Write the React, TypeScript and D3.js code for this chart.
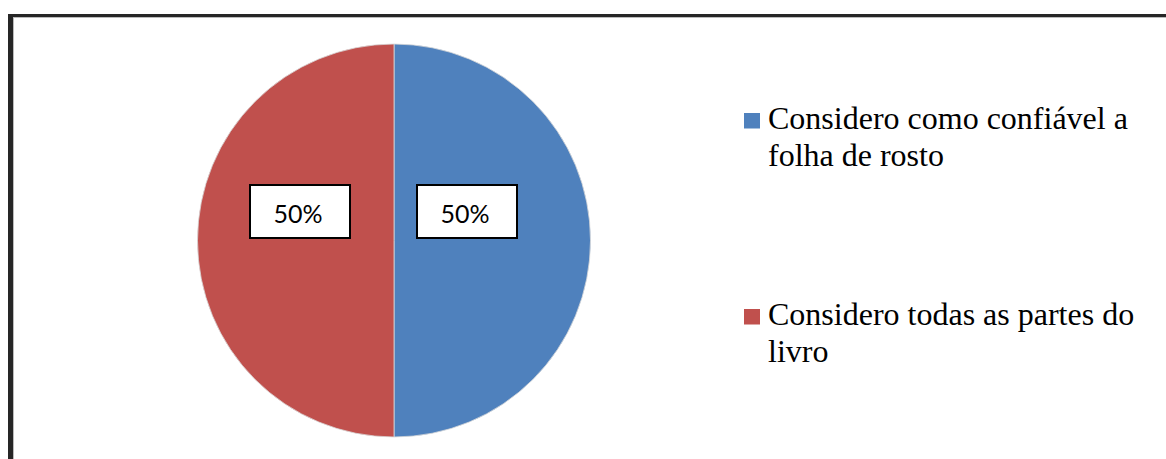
import React from "react";
import * as d3 from "d3";

const categories = ["Considero como confiável a folha de rosto", "Considero todas as partes do livro"];
const legendLines = [["Considero como confiável a", "folha de rosto"], ["Considero todas as partes do", "livro"]];
const values = [50, 50];
const colors = ["#4F81BD", "#C0504D"];

export default function App() {
  const W = 1166, H = 459;
  const cx = 394, cy = 240.5, r = 196.5;
  const pie = d3.pie<number>().sort(null).startAngle(0).endAngle(2 * Math.PI)(values);
  const arc = d3.arc<d3.PieArcDatum<number>>().innerRadius(0).outerRadius(r);
  const labelOffsets = [73, 94];
  const total = d3.sum(values);
  const fmt = d3.format(".0%");
  return (
    <svg width={W} height={H} style={{ position: "absolute", left: 0, top: 0, display: "block" }}>
      <rect x={0} y={0} width={W} height={H} fill="#fff" />
      <line x1={8} x2={W} y1={15.5} y2={15.5} stroke="#262626" strokeWidth={3} />
      <line x1={10.5} x2={10.5} y1={14} y2={H} stroke="#262626" strokeWidth={5} />
      <line x1={13} x2={W} y1={17.5} y2={17.5} stroke="#bbb" strokeWidth={1} />
      <line x1={13.5} x2={13.5} y1={17} y2={H} stroke="#bbb" strokeWidth={1} />
      <g transform={`translate(${cx},${cy})`}>
        {pie.map((d, i) => (
          <path key={i} d={arc(d) || ""} fill={colors[i]} stroke="#d9d9d9" strokeWidth={0.8} />
        ))}
        {pie.map((d, i) => {
          const mid = (d.startAngle + d.endAngle) / 2;
          const bx = Math.sin(mid) * labelOffsets[i];
          const by = -29;
          return (
            <g key={"l" + i} transform={`translate(${bx},${by})`}>
              <rect x={-50} y={-26.5} width={100} height={53} fill="#fff" stroke="#000" strokeWidth={2} />
              <text x={-2} y={11} textAnchor="middle" fontFamily="Lato, 'Open Sans', sans-serif" fontSize={25} fill="#000">
                {fmt(d.data / total)}
              </text>
            </g>
          );
        })}
      </g>
      {legendLines.map((lines, i) => {
        const y0 = i === 0 ? 129 : 325;
        return (
          <g key={"lg" + i}>
            <rect x={744} y={y0 - 16} width={16} height={15.5} fill={colors[i]} />
            <text fontFamily="'Liberation Serif', 'Times New Roman', serif" fontSize={32} fill="#000">
              <title>{categories[i]}</title>
              {lines.map((ln, j) => (
                <tspan key={j} x={768} y={y0 + j * 37}>{ln}</tspan>
              ))}
            </text>
          </g>
        );
      })}
    </svg>
  );
}
